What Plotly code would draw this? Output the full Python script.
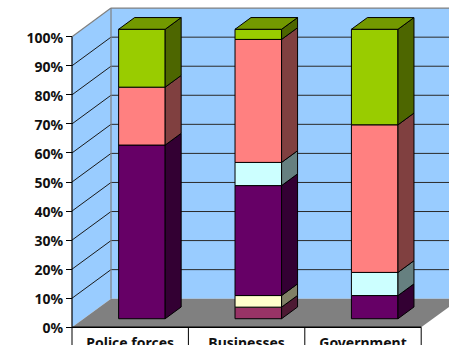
import plotly.graph_objects as go

categories = ["Police forces", "Businesses", "Government"]
s1 = [0, 4, 0]
s2 = [0, 4, 0]
s3 = [60, 38, 8]
s4 = [0, 8, 8]
s5 = [20, 42.5, 51]
s6 = [20, 3.5, 33]
series = [s1, s2, s3, s4, s5, s6]
front_colors = ["#993366", "#FFFFCC", "#660066", "#CCFFFF", "#FF8080", "#99CC00"]
side_colors = ["#4D1A33", "#808066", "#330033", "#668080", "#804040", "#4D6600"]
top_color = "#739900"
y_ticks = [0, 10, 20, 30, 40, 50, 60, 70, 80, 90, 100]

W, H = 449, 345
PX_X, PX_Y = 116.4, 2.906
X0, Y0 = 72, 327.3
WALL_DX, WALL_DY = 39 / PX_X, 28.6 / PX_Y
BAR_D0, BAR_D1 = 0.30, 0.71
BAR_W = 0.4
S = 0.996
n = len(categories)


def proj(c, v, d, scale=1.0):
    return c + d * WALL_DX, v * scale + d * WALL_DY


def poly(pts, fill, line=None, width=0, layer="below"):
    path = "M " + " L ".join(f"{x},{y}" for x, y in pts) + " Z"
    return dict(type="path", path=path, fillcolor=fill, layer=layer,
                line=dict(color=line or fill, width=width))


def seg(p, q, color, width=1.0, layer="below"):
    return dict(type="line", x0=p[0], y0=p[1], x1=q[0], y1=q[1], layer=layer,
                line=dict(color=color, width=width))


shapes = []
far = n + 1
# walls and floor
shapes.append(poly([proj(0, 0, 0), proj(0, 100, 0), proj(0, 100, 1), proj(0, 0, 1)], "#99CCFF"))
shapes.append(poly([proj(0, 0, 1), proj(0, 100, 1), proj(far, 100, 1), proj(far, 0, 1)], "#99CCFF"))
shapes.append(poly([proj(0, 0, 0), proj(n, 0, 0), proj(n, 0, 1), proj(0, 0, 1)], "#808080"))
# gridlines
for t in y_ticks[1:-1]:
    shapes.append(seg(proj(0, t, 0), proj(0, t, 1), "#1a1a1a"))
    shapes.append(seg(proj(0, t, 1), proj(far, t, 1), "#2a2a2a"))
# wall edges
shapes.append(seg(proj(0, 100, 0), proj(0, 100, 1), "#808080", 1.2))
shapes.append(seg(proj(0, 100, 1), proj(far, 100, 1), "#808080", 1.2))
shapes.append(seg(proj(0, 0, 1), proj(0, 100, 1), "#808080", 1.2))
# axis frame
shapes.append(seg(proj(0, 0, 0), proj(0, 100, 0), "#000000", 1.2))
shapes.append(seg(proj(0, 0, 0), proj(n, 0, 0), "#000000", 1.6))
for c in range(n + 1):
    shapes.append(seg((c, 0), (c, -7), "#000000", 1.0))

fig = go.Figure()

centres = [i + 0.5 for i in range(n)]
for k, vals in enumerate(series):
    xs, bases, hs = [], [], []
    for i, v in enumerate(vals):
        if v == 0:
            continue
        b = sum(series[j][i] for j in range(k))
        xs.append(centres[i] + BAR_D0 * WALL_DX)
        bases.append(b * S + BAR_D0 * WALL_DY)
        hs.append(v * S)
    fig.add_trace(go.Bar(x=xs, y=hs, base=bases, width=BAR_W, hoverinfo="skip",
                         marker=dict(color=front_colors[k], line=dict(color="#000000", width=1))))

for k, vals in enumerate(series):
    for i, v in enumerate(vals):
        if v == 0:
            continue
        b = sum(series[j][i] for j in range(k))
        right = centres[i] + BAR_W / 2
        pts = [proj(right, b, BAR_D0, S), proj(right, b + v, BAR_D0, S),
               proj(right, b + v, BAR_D1, S), proj(right, b, BAR_D1, S)]
        pts.append(pts[0])
        fig.add_trace(go.Scatter(x=[p[0] for p in pts], y=[p[1] for p in pts], mode="lines",
                                 fill="toself", fillcolor=side_colors[k], hoverinfo="skip",
                                 line=dict(color="#000000", width=1)))

for i in range(n):
    total = sum(s[i] for s in series)
    l, r = centres[i] - BAR_W / 2, centres[i] + BAR_W / 2
    pts = [proj(l, total, BAR_D0, S), proj(r, total, BAR_D0, S),
           proj(r, total, BAR_D1, S), proj(l, total, BAR_D1, S)]
    pts.append(pts[0])
    fig.add_trace(go.Scatter(x=[p[0] for p in pts], y=[p[1] for p in pts], mode="lines",
                             fill="toself", fillcolor=top_color, hoverinfo="skip",
                             line=dict(color="#000000", width=1)))

font = dict(family="Noto Sans", size=14, color="#111111", weight=700)
fig.update_layout(
    width=W, height=H, margin=dict(l=0, r=0, t=0, b=0, pad=0),
    paper_bgcolor="white", plot_bgcolor="white", showlegend=False,
    barmode="overlay", shapes=shapes,
    xaxis=dict(range=[-X0 / PX_X, (W - X0) / PX_X], tickmode="array", tickvals=centres,
               ticktext=categories, showgrid=False, zeroline=False, showline=False,
               ticks="", tickfont=font, anchor="free", position=(H - Y0) / H, automargin=False,
               ticklabelstandoff=6),
    yaxis=dict(range=[(Y0 - H) / PX_Y, Y0 / PX_Y], tickmode="array", tickvals=y_ticks,
               ticktext=[f"{t}%" for t in y_ticks], showgrid=False, zeroline=False, showline=False,
               ticks="outside", ticklen=6, tickcolor="#000000", tickwidth=1.2, tickfont=font,
               anchor="free", position=X0 / W, automargin=False, ticklabelshift=1),
)

fig.write_html("out.html", config={"displayModeBar": False},
               post_script="document.body.style.margin='0';document.body.style.overflow='hidden';")
